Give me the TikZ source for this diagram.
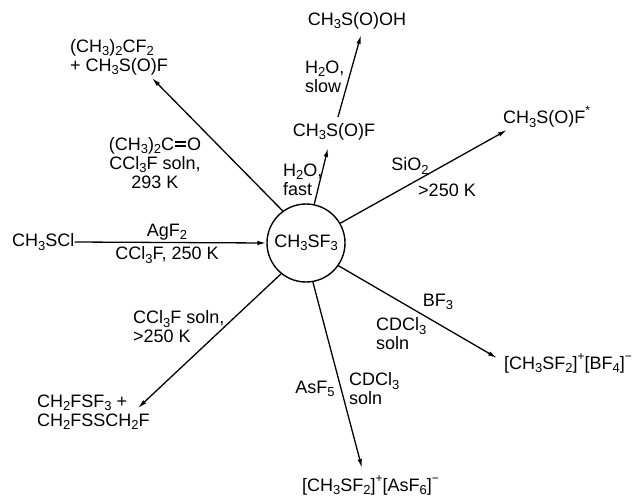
\documentclass[tikz,border=0pt]{standalone}
\usepackage{fontspec}
\setmainfont{Liberation Sans}
\usetikzlibrary{arrows.meta}
\newcommand\subs[1]{\raisebox{-0.18em}{\fontsize{13}{13}\selectfont #1}}
\newcommand\sups[1]{\raisebox{0.5em}{\fontsize{12}{12}\selectfont #1}}
\newcommand\dblbond{\kern1pt\rlap{\raisebox{3.5pt}{\rule{11pt}{1.6pt}}}\raisebox{7.5pt}{\rule{11pt}{1.6pt}}\kern1pt}
\begin{document}
\begin{tikzpicture}[x=1pt,y=-1pt,
  font=\fontsize{18}{19}\selectfont,
  lbl/.style={inner sep=0pt, align=center},
  lbll/.style={inner sep=0pt, align=left},
  arr/.style={line width=1.3pt, -{Latex[length=9pt,width=4.5pt]}}]
\useasboundingbox (0,0) rectangle (644,501);
% central compound
\node[draw, circle, line width=1.4pt, minimum size=78pt, inner sep=0pt] (c) at (306,243) {CH\subs{3}SF\subs{3}};
% products / reactants
\node[lbl, anchor=west] (cl) at (12,242) {CH\subs{3}SCl};
\node[lbll, anchor=west] (tl) at (70,57) {(CH\subs{3})\subs{2}CF\subs{2}\\+ CH\subs{3}S(O)F};
\node[lbl] (mid) at (334,132) {CH\subs{3}S(O)F};
\node[lbl] (oh) at (357,21) {CH\subs{3}S(O)OH};
\node[lbl, anchor=west] (star) at (503,117) {CH\subs{3}S(O)F\sups{*}};
\node[lbl, anchor=west] (bf) at (504,363) {[CH\subs{3}SF\subs{2}]\sups{+}[BF\subs{4}]\sups{−}};
\node[lbl, anchor=west] (as) at (302,485) {[CH\subs{3}SF\subs{2}]\sups{+}[AsF\subs{6}]\sups{−}};
\node[lbll, anchor=west] (ch2) at (37,412) {CH\subs{2}FSF\subs{3} +\\CH\subs{2}FSSCH\subs{2}F};
% arrow tips
\coordinate (tTL) at (152,78);
\coordinate (tMid) at (328,148);
\coordinate (sMid) at (338,117);
\coordinate (tOH) at (361,35);
\coordinate (tStar) at (507,130);
\coordinate (tBF) at (497,358);
\coordinate (tAs) at (362,468);
\coordinate (tCH2) at (138,408);
% connectors
\draw[arr] (cl.east) -- (c.west);
\draw[arr] (c.126) -- (tTL);
\draw[arr] (c.78) -- (tMid);
\draw[arr] (sMid) -- (tOH);
\draw[arr] (c.30) -- (tStar);
\draw[arr] (c.-35) -- (tBF);
\draw[arr] (c.-80) -- (tAs);
\draw[arr] (c.-129) -- (tCH2);
% conditions
\node[lbl] (agf) at (167,232) {AgF\subs{2}};
\node[lbl] (cclf) at (167,255) {CCl\subs{3}F, 250 K};
\node[lbl] (acet) at (155,163) {(CH\subs{3})\subs{2}C\dblbond O\\CCl\subs{3}F soln,\\293 K};
\node[lbll, anchor=west] (fast) at (283,180) {H\subs{2}O,\\fast};
\node[lbll, anchor=west] (slow) at (305,77) {H\subs{2}O,\\slow};
\node[lbl] (sio) at (410,166) {SiO\subs{2}};
\node[lbl] (k250) at (447,190) {>250 K};
\node[lbll, anchor=west] (cclsoln) at (133,327) {CCl\subs{3}F soln,\\>250 K};
\node[lbl] (bf3) at (438,302) {BF\subs{3}};
\node[lbll, anchor=west] (cdc1) at (376,334) {CDCl\subs{3}\\soln};
\node[lbl] (asf5) at (315,389) {AsF\subs{5}};
\node[lbll, anchor=west] (cdc2) at (349,389) {CDCl\subs{3}\\soln};
\end{tikzpicture}
\end{document}
